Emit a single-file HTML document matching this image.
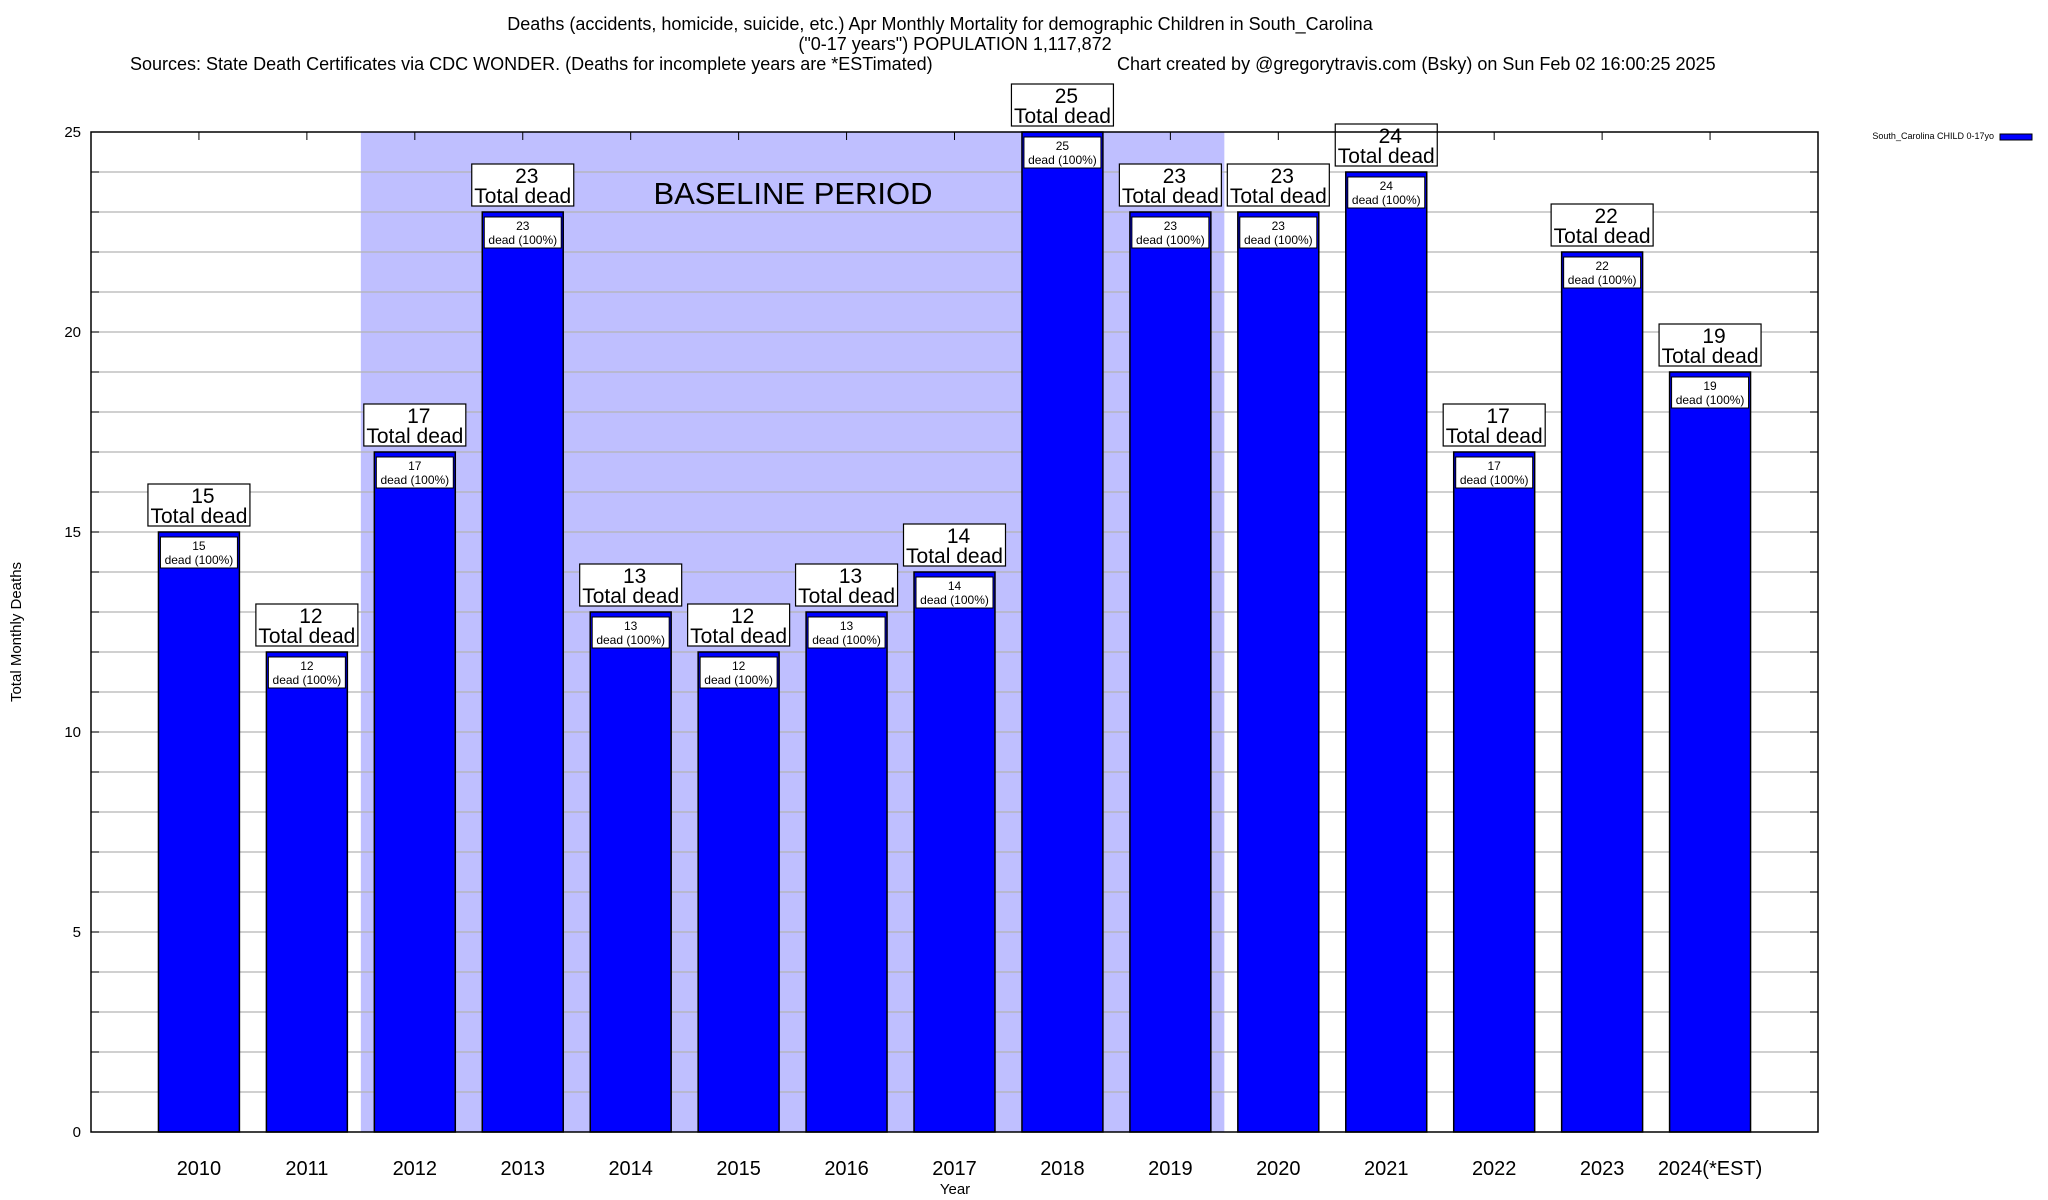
<!DOCTYPE html>
<html><head><meta charset="utf-8"><style>
body{margin:0;background:#fff}
svg{display:block;font-family:"Liberation Sans",Arial,sans-serif}
</style></head><body>
<svg id="chart" width="2048" height="1200" viewBox="0 0 2048 1200" xmlns="http://www.w3.org/2000/svg">
<text x="940" y="30" font-size="18" text-anchor="middle">Deaths (accidents, homicide, suicide, etc.) Apr Monthly Mortality for demographic Children in South_Carolina</text>
<text x="955" y="50" font-size="18" text-anchor="middle">("0-17 years") POPULATION 1,117,872</text>
<text x="130" y="70" font-size="18">Sources: State Death Certificates via CDC WONDER. (Deaths for incomplete years are *ESTimated)</text>
<text x="1117" y="70" font-size="18">Chart created by @gregorytravis.com (Bsky) on Sun Feb 02 16:00:25 2025</text>
<g id="plot"></g>
<text transform="translate(21,632) rotate(-90)" font-size="15" text-anchor="middle">Total Monthly Deaths</text>
<text x="955" y="1194" font-size="15" text-anchor="middle">Year</text>
<text x="1994" y="139" font-size="9" text-anchor="end">South_Carolina CHILD 0-17yo</text>
<rect x="2000" y="134" width="32" height="6" fill="#0000ff" stroke="#000" stroke-width="1"/>
</svg>
<script>
const categories=["2010","2011","2012","2013","2014","2015","2016","2017","2018","2019","2020","2021","2022","2023","2024(*EST)"];
const deaths=[15,12,17,23,13,12,13,14,25,23,23,24,17,22,19];
const yTicks=[0,5,10,15,20,25];
const baselineRange=[1.5,9.5];
const NS="http://www.w3.org/2000/svg";
const L=91,R=1818,T=132,B=1132,yMax=25;
const slot=(R-L)/16;
const xs=i=>L+(i+1)*slot;
const ys=v=>B-(v/yMax)*(B-T);
const g=document.getElementById('plot');
function mk(tag,attrs,parent){const e=document.createElementNS(NS,tag);for(const k in attrs)e.setAttribute(k,attrs[k]);(parent||g).appendChild(e);return e;}
// baseline shading
let sh=mk('rect',{x:xs(baselineRange[0]),y:T,width:xs(baselineRange[1])-xs(baselineRange[0]),height:B-T,fill:'#bfbfff'});


// grid
for(let v=1;v<yMax;v++){
  let ln=mk('line',{x1:L,x2:R,y1:ys(v),y2:ys(v),stroke:'#b4b4b4','stroke-width':1.3});
  
  
  mk('line',{x1:L,x2:L+8,y1:ys(v),y2:ys(v),stroke:'#000'});
  mk('line',{x1:R-8,x2:R,y1:ys(v),y2:ys(v),stroke:'#000'});
}
let bt=mk('text',{x:793,y:204,'font-size':31,'text-anchor':'middle'});
bt.textContent='BASELINE PERIOD';


yTicks.forEach(v=>{
  let t=mk('text',{x:81,y:ys(v)+5,'font-size':15,'text-anchor':'end'});
  t.textContent=v;
  
  
});
const bw=slot*0.75;
categories.forEach((c,i)=>{
  const cx=xs(i),v=deaths[i],y=ys(v);
  mk('line',{x1:cx,x2:cx,y1:T,y2:T+8,stroke:'#000'});
  mk('line',{x1:cx,x2:cx,y1:B,y2:B-8,stroke:'#000'});
  let b=mk('rect',{x:cx-bw/2,y:y,width:bw,height:B-y,fill:'#0000ff',stroke:'#000','stroke-width':1.5});
  
  
  let ib=mk('rect',{x:cx-bw/2+2,y:y+5,width:bw-4,height:31,fill:'#fff',stroke:'#000','stroke-width':1});
  
  
  let t1=mk('text',{x:cx,y:y+18,'font-size':12,'text-anchor':'middle'});t1.textContent=v;
  
  
  let t2=mk('text',{x:cx,y:y+32,'font-size':12,'text-anchor':'middle'});t2.textContent='dead (100%)';
  
  
  let ob=mk('rect',{x:cx-51,y:y-48,width:102,height:42,fill:'#fff',stroke:'#000','stroke-width':1.2});
  
  
  let t3=mk('text',{x:cx+4,y:y-29,'font-size':21,'text-anchor':'middle'});t3.textContent=v;
  
  
  let t4=mk('text',{x:cx,y:y-9,'font-size':21,'text-anchor':'middle'});t4.textContent='Total dead';
  
  
  let xl=mk('text',{x:cx,y:1175,'font-size':20,'text-anchor':'middle'});xl.textContent=c;
  
  
});
let fr=mk('rect',{x:L,y:T,width:R-L,height:B-T,fill:'none',stroke:'#000','stroke-width':1.5});


</script>
</body></html>
